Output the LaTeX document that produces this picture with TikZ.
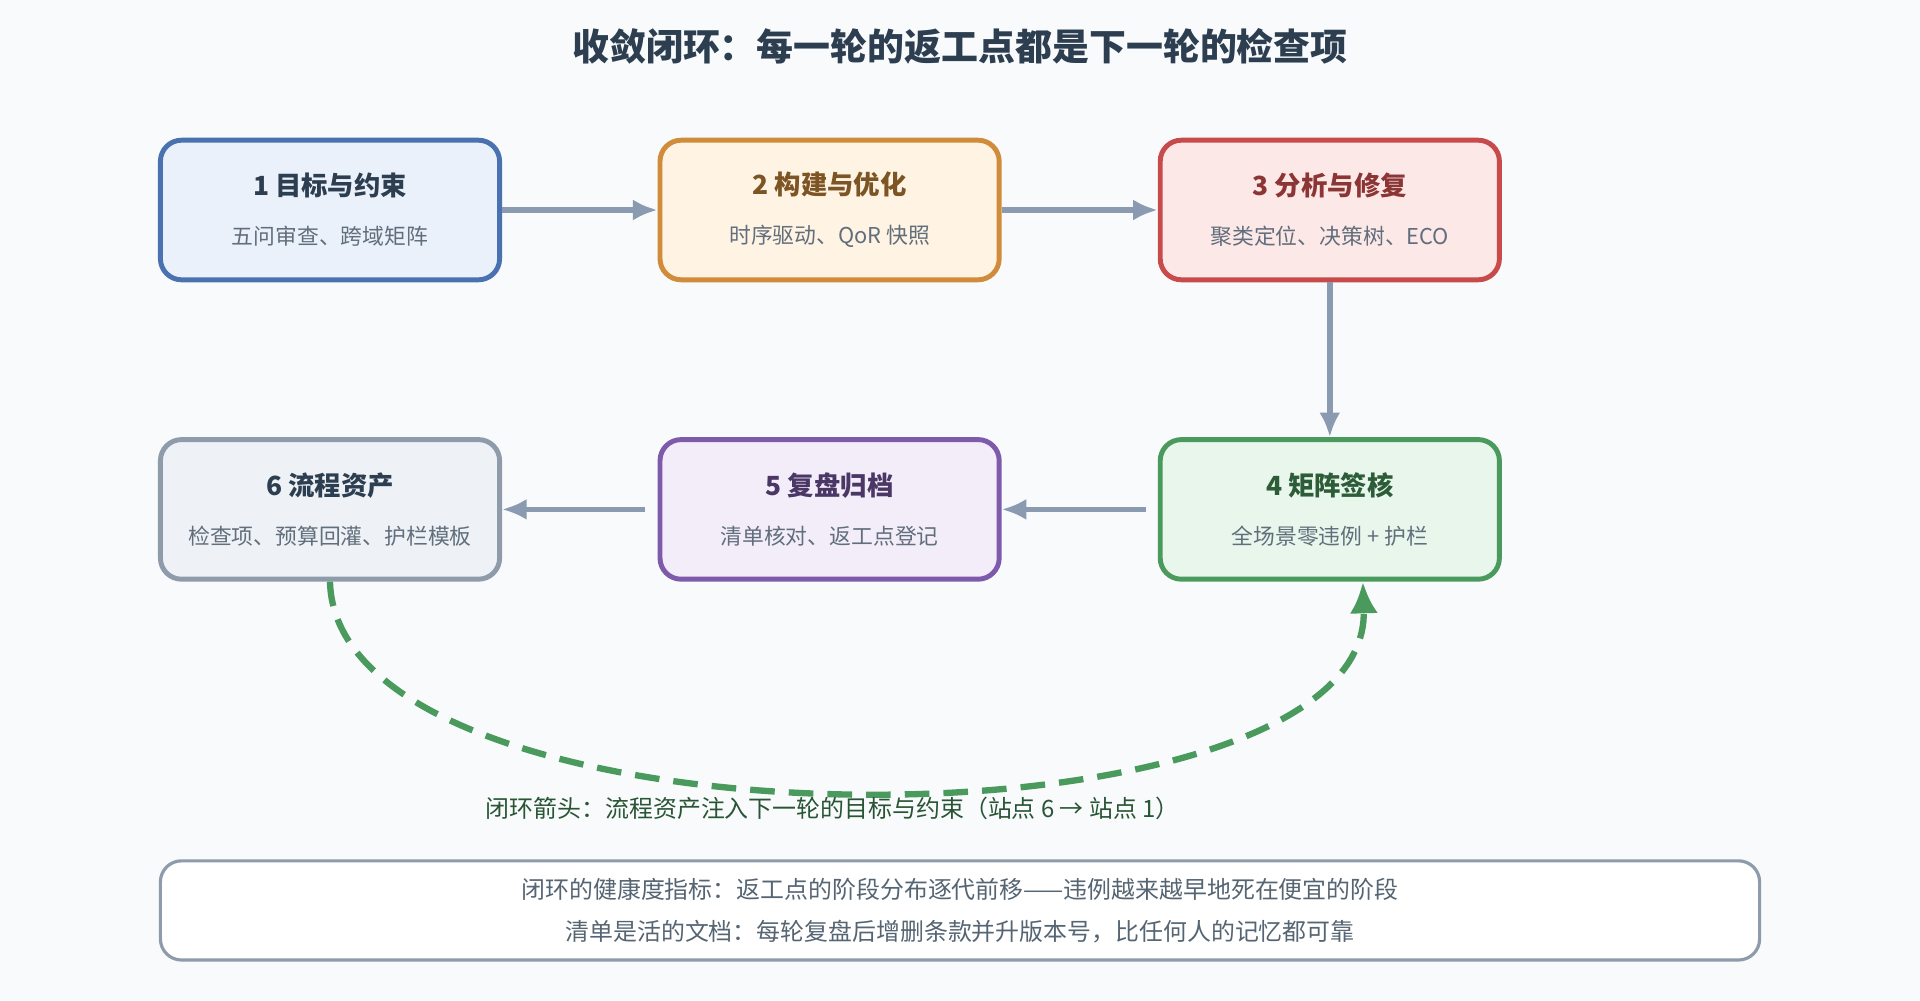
\documentclass[tikz,border=0pt]{standalone}
\usepackage{fontspec}
\setmainfont{Noto Sans CJK SC}
\usetikzlibrary{arrows.meta, positioning}
\definecolor{bgc}{HTML}{F8FAFC}
\definecolor{ink}{HTML}{2C3E50}
\definecolor{grayline}{HTML}{8A9AB0}
\definecolor{b1}{HTML}{4A72B0}\definecolor{f1}{HTML}{EAF1FB}
\definecolor{b2}{HTML}{D08C3A}\definecolor{f2}{HTML}{FFF3E3}
\definecolor{b3}{HTML}{C84B4B}\definecolor{f3}{HTML}{FDE8E8}
\definecolor{b4}{HTML}{4A9A5E}\definecolor{f4}{HTML}{E9F6EC}
\definecolor{b5}{HTML}{7E5BAA}\definecolor{f5}{HTML}{F3ECF9}
\definecolor{b6}{HTML}{8E9BAA}\definecolor{f6}{HTML}{EEF2F6}
\newlength{\px}\setlength{\px}{0.012245cm}
\tikzset{
  stage/.style={draw, line width=1.4pt, rounded corners=6pt, minimum width=277\px, minimum height=114\px, align=center},
  flow/.style={-{Latex[length=7pt,width=6pt]}, draw=grayline, line width=1.6pt},
}
\newcommand{\stagetext}[3]{{\color{#1}\fontsize{7.5}{9}\selectfont\bfseries #2}\\[2pt]{\color{ink!75}\fontsize{6.2}{8}\selectfont #3}}
\begin{document}
\begin{tikzpicture}[x=0.012245cm, y=-0.012245cm]
  \fill[bgc] (0,0) rectangle (1568,817);
  \node (title) at (784,38) {\color{ink}\fontsize{10.5}{12}\selectfont\bfseries 收敛闭环：每一轮的返工点都是下一轮的检查项};
  \node[stage, draw=b1, fill=f1] (goal)  at (269.5,171.5) {\stagetext{ink}{1 目标与约束}{五问审查、跨域矩阵}};
  \node[stage, draw=b2, fill=f2] (build) at (677.5,171.5) {\stagetext{b2!60!black}{2 构建与优化}{时序驱动、QoR 快照}};
  \node[stage, draw=b3, fill=f3] (fix)   at (1086,171.5) {\stagetext{b3!70!black}{3 分析与修复}{聚类定位、决策树、ECO}};
  \node[stage, draw=b4, fill=f4] (sign)  at (1086,416)   {\stagetext{b4!60!black}{4 矩阵签核}{全场景零违例 + 护栏}};
  \node[stage, draw=b5, fill=f5] (review) at (677.5,416) {\stagetext{b5!60!black}{5 复盘归档}{清单核对、返工点登记}};
  \node[stage, draw=b6, fill=f6] (assets) at (269.5,416) {\stagetext{ink}{6 流程资产}{检查项、预算回灌、护栏模板}};
  \draw[flow] (goal) -- (build);
  \draw[flow] (build) -- (fix);
  \draw[flow] (fix) -- (sign);
  \draw[flow] ([xshift=-10\px]sign.west) -- (review);
  \draw[flow] ([xshift=-10\px]review.west) -- (assets);
  \draw[b4, line width=1.8pt, dash pattern=on 7pt off 4pt, -{Latex[length=9pt,width=8pt]}]
    (assets.south) .. controls (275,703) and (1120,703) .. ([xshift=27\px]sign.south);
  \node (looplabel) at (680,660) {\color{b4!55!black}\fontsize{6.8}{8}\selectfont 闭环箭头：流程资产注入下一轮的目标与约束（站点 6 → 站点 1）};
  \node[draw=b6, line width=0.9pt, rounded corners=6pt, fill=white, minimum width=1306\px, minimum height=81\px, align=center] (note) at (784,743.5)
    {\color{ink!80}\fontsize{6.8}{9.5}\selectfont 闭环的健康度指标：返工点的阶段分布逐代前移——违例越来越早地死在便宜的阶段\\\color{ink!80}\fontsize{6.8}{9.5}\selectfont 清单是活的文档：每轮复盘后增删条款并升版本号，比任何人的记忆都可靠};
\end{tikzpicture}
\end{document}
